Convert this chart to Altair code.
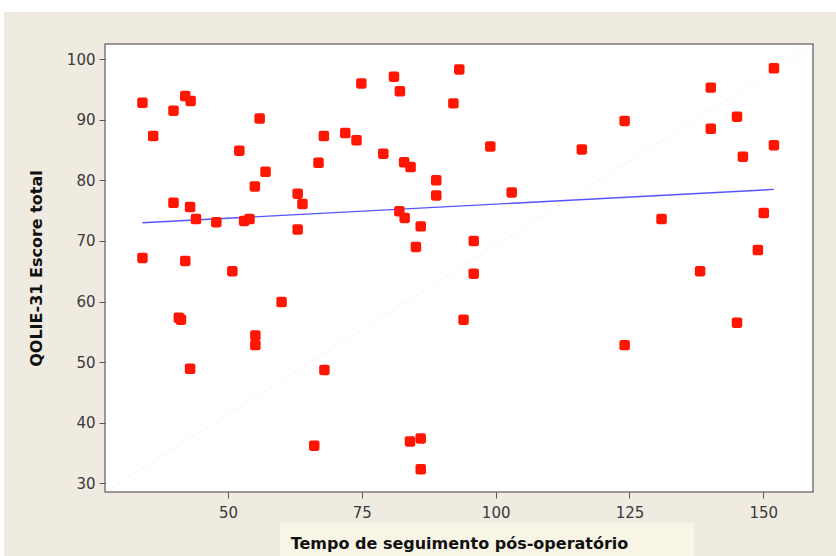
import altair as alt
import pandas as pd

# Scatter data
follow_up = [34, 34, 36, 39.8, 42, 43, 39.8, 42.9, 44, 47.8, 42, 50.8, 52.1, 55.9, 57, 55, 53, 54,
             63, 63.9, 63, 66.9, 67.9, 71.9, 74, 74.9, 81, 82.1, 93.2, 92.1, 79, 82.9, 84.1, 88.9,
             88.9, 99, 103, 82, 83, 86, 85.1, 95.9, 95.9, 116.1, 124.1, 140.2, 152, 145.1, 140.2,
             152, 146.2, 131, 150.1, 149, 138.2, 145.1, 124.1, 40.8, 41.2, 42.9, 55.1, 55.1, 60,
             68, 66.1, 94, 84, 86, 86]
qolie = [92.8, 67.2, 87.3, 91.5, 93.9, 93.1, 76.3, 75.6, 73.6, 73.1, 66.7, 65.0, 84.9, 90.2, 81.4,
         79.0, 73.3, 73.6, 77.8, 76.1, 71.9, 82.9, 87.3, 87.8, 86.6, 96.0, 97.1, 94.7, 98.3, 92.7,
         84.4, 83.0, 82.2, 80.0, 77.5, 85.6, 78.0, 74.9, 73.8, 72.4, 69.0, 70.0, 64.6, 85.1, 89.8,
         95.3, 98.5, 90.5, 88.5, 85.8, 83.9, 73.6, 74.6, 68.5, 65.0, 56.5, 52.8, 57.3, 57.0, 48.9,
         54.4, 52.8, 59.9, 48.7, 36.2, 57.0, 36.9, 37.4, 32.3]

# Fitted line (blue) end points
fit_x = [34, 152]
fit_y = [73.0, 78.5]

# Faint diagonal reference line
diag_x = [27.6, 157.9]
diag_y = [28.9, 101.5]

x_ticks = [50, 75, 100, 125, 150]
y_ticks = [30, 40, 50, 60, 70, 80, 90, 100]

pts = pd.DataFrame({"x": follow_up, "y": qolie})
fit = pd.DataFrame({"x": fit_x, "y": fit_y})
diag = pd.DataFrame({"x": diag_x, "y": diag_y})

W, H = 708, 448
BG = "#EFEBE0"
FONT = "DejaVu Sans"

xscale = alt.Scale(domain=[27.0, 159.3], nice=False, zero=False)
yscale = alt.Scale(domain=[28.56, 102.5], nice=False, zero=False)

xaxis = alt.Axis(values=x_ticks, title="Tempo de seguimento pós-operatório", grid=False,
                 domain=False, tickSize=6, tickColor="#555555", labelColor="#3a3a3a",
                 labelFont=FONT, labelFontSize=15, labelPadding=7,
                 titleFont=FONT, titleFontSize=16, titleFontWeight="bold", titleColor="#111111",
                 titlePadding=15, zindex=1)
yaxis = alt.Axis(values=y_ticks, title="QOLIE-31 Escore total", grid=False,
                 domain=False, tickSize=6, tickColor="#555555", labelColor="#3a3a3a",
                 labelFont=FONT, labelFontSize=15, labelPadding=4,
                 titleFont=FONT, titleFontSize=16, titleFontWeight="bold", titleColor="#111111",
                 titlePadding=22)

# decorative backgrounds: white strip at the top/left edge and a lighter box behind the x title
top_strip = alt.Chart(pts).mark_rect(color="white").encode(
    x=alt.value(-105), x2=alt.value(836 - 105), y=alt.value(-44), y2=alt.value(-32))
left_strip = alt.Chart(pts).mark_rect(color="white").encode(
    x=alt.value(-105), x2=alt.value(-101), y=alt.value(-44), y2=alt.value(556 - 44))
title_box = alt.Chart(pts).mark_rect(color="#F8F4E6").encode(
    x=alt.value(175), x2=alt.value(589), y=alt.value(479), y2=alt.value(512))

diag_line = alt.Chart(diag).mark_line(color="#F1EFE6", strokeWidth=1, strokeDash=[2, 2]).encode(
    x=alt.X("x:Q", scale=xscale, axis=xaxis),
    y=alt.Y("y:Q", scale=yscale, axis=yaxis))

fit_line = alt.Chart(fit).mark_line(color="#5555FF", strokeWidth=1.4).encode(
    x=alt.X("x:Q", scale=xscale),
    y=alt.Y("y:Q", scale=yscale))

rounded_sq = ("M-0.6,-1 L0.6,-1 Q1,-1 1,-0.6 L1,0.6 Q1,1 0.6,1 L-0.6,1 "
              "Q-1,1 -1,0.6 L-1,-0.6 Q-1,-1 -0.6,-1 Z")
points = alt.Chart(pts).mark_point(shape=rounded_sq, filled=True, color="#FF1500",
                                   opacity=1, size=110).encode(
    x=alt.X("x:Q", scale=xscale),
    y=alt.Y("y:Q", scale=yscale))

chart = alt.layer(top_strip, left_strip, title_box, diag_line, fit_line, points).properties(
    width=W, height=H,
    padding={"left": 105, "top": 44, "right": 23, "bottom": 64},
    autosize=alt.AutoSizeParams(type="none"),
    background=BG,
).configure_view(
    fill="white", stroke="#7a7a7a", strokeWidth=1.5
)

chart.save("out.html", embed_options={"renderer": "svg", "actions": False})
